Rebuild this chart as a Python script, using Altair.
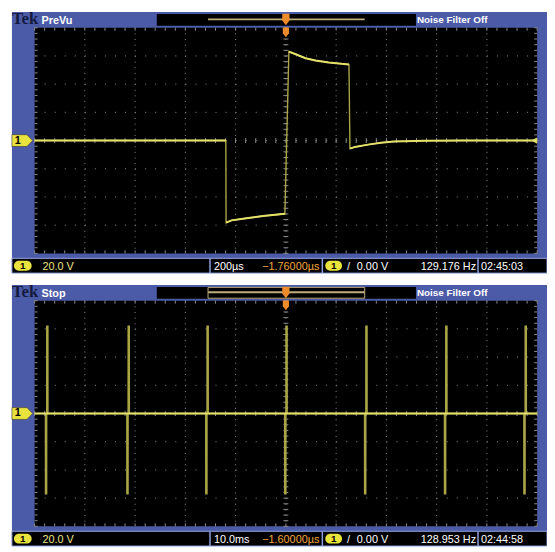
import altair as alt
import pandas as pd

# ---------------- data (read from the two captures) ----------------
# top capture: 200 us/div, 20 V/div
top_time_us = [-1000, -239, -238, -216, -157, -91, -4, 12, 39, 78, 118, 170, 222, 251,
               255, 275, 327, 379, 431, 550, 700, 1000]
top_volts = [0, 0, -58.2, -56.6, -55.1, -53.5, -51.9, 63.1, 61.2, 58.4, 56.8, 55.4, 54.4, 54.0,
             -5.7, -4.5, -2.9, -1.5, -0.6, -0.2, 0, 0]
top_segment = [0, 0, 1, 1, 1, 1, 1, 2, 2, 2, 2, 2, 2, 2, 3, 3, 3, 3, 3, 3, 3, 3]

# bottom capture: 10 ms/div, 20 V/div
spike_times_ms = [-47.6, -31.4, -15.7, 0.0, 15.9, 31.8, 47.6]
spike_high_v = [62, 62, 62, 62, 62, 62, 62]
spike_low_v = [-57, -57, -57, -57, -57, -57, -57]
pulse_low_ms = 0.24
pulse_high_ms = 0.25

top_grid_us = [-800, -600, -400, -200, 0, 200, 400, 600, 800]
bottom_grid_ms = [-40, -30, -20, -10, 0, 10, 20, 30, 40]
grid_volts = [-60, -40, -20, 0, 20, 40, 60]

top_status = {"mode": "PreVu", "volts": "20.0 V", "timebase": "200\u00b5s",
              "position": "\u22121.76000\u00b5s", "trigger": "0.00 V",
              "freq": "129.176 Hz", "clock": "02:45:03"}
bottom_status = {"mode": "Stop", "volts": "20.0 V", "timebase": "10.0ms",
                 "position": "\u22121.60000\u00b5s", "trigger": "0.00 V",
                 "freq": "128.953 Hz", "clock": "02:44:58"}

# ---------------- tables ----------------
top_df = pd.DataFrame({"t": top_time_us, "v": top_volts, "seg": top_segment,
                       "i": range(len(top_time_us))})

rows = [(-50.0, 0.0)]
for t, hi, lo in zip(spike_times_ms, spike_high_v, spike_low_v):
    rows += [(t - pulse_low_ms - 0.01, 0.0), (t - pulse_low_ms, lo), (t, lo),
             (t + 0.015, hi), (t + pulse_high_ms, hi), (t + pulse_high_ms + 0.01, 0.0)]
rows.append((50.0, 0.0))
bot_df = pd.DataFrame(rows, columns=["t", "v"])
bot_df["i"] = range(len(bot_df))
bot_base = bot_df[bot_df["v"] == 0]

# ---------------- style ----------------
W, H = 547, 543
DY2 = 277
PX0, PX1, PY0, PY1 = 27, 537, 16, 245
BLUE = "#4b5ba8"
BORDER = "#8d9fe0"
TRACE = "#e4e16a"
TRACE_DIM = "#aaa546"
GRID = "#8c8c8c"
TAN = "#bfae7c"
ORANGE = "#ec8a2c"
POS_ORANGE = "#f0a53c"
VOLT_YELLOW = "#ebe584"
PILL = "#e9e33e"
NARROW = "Liberation Sans Narrow, Liberation Sans, Arial, sans-serif"

one = pd.DataFrame({"k": [0]})
CH_SHAPE = "M-1,-0.57 L0.45,-0.57 L1,0 L0.45,0.57 L-1,0.57 Z"
TRIG_SHAPE = "M-0.6,-1 L0.6,-1 L0.6,0.1 L0,0.9 L-0.6,0.1 Z"


def xs(dom):
    return alt.Scale(domain=dom, range=[PX0, PX1], nice=False, zero=False)


def ys(dy):
    return alt.Scale(domain=[-80, 80], range=[PY1 + dy, PY0 + dy], nice=False, zero=False)


def rect(x, x2, y, y2, **kw):
    return alt.Chart(one).mark_rect(**kw).encode(
        x=alt.value(x), x2=alt.value(x2), y=alt.value(y), y2=alt.value(y2))


def label(x, y, text, **kw):
    kw.setdefault("font", NARROW)
    kw.setdefault("fontSize", 11)
    kw.setdefault("align", "left")
    kw.setdefault("baseline", "alphabetic")
    return alt.Chart(one).mark_text(text=text, **kw).encode(x=alt.value(x), y=alt.value(y))


def vrule(x, y, y2, **kw):
    return alt.Chart(one).mark_rule(**kw).encode(x=alt.value(x), y=alt.value(y), y2=alt.value(y2))


def hrule(x, x2, y, **kw):
    return alt.Chart(one).mark_rule(**kw).encode(x=alt.value(x), x2=alt.value(x2), y=alt.value(y))


def panel(dy, dom, grid_x, status, bracket):
    L = []
    xsc, ysc = xs(dom), ys(dy)
    # frame and header
    L.append(rect(4, W, dy, 250 + dy, color=BLUE))
    L.append(rect(151, 414, 2 + dy, 14 + dy, color="black"))
    if bracket:
        L.append(rect(203, 362, 2.5 + dy, 13.5 + dy, fill="black", stroke=TAN, strokeWidth=1))
    L.append(hrule(203, 362, 7.5 + dy, color=TAN, strokeWidth=2))
    L.append(alt.Chart(one).mark_point(shape=TRIG_SHAPE, size=150, filled=True, color=ORANGE,
                                       opacity=1).encode(x=alt.value(282), y=alt.value(8 + dy)))
    L.append(label(4, 12 + dy, "Tek", font="Liberation Serif", fontSize=17,
                   fontWeight="bold", color="#141a3e"))
    L.append(label(34, 12 + dy, status["mode"], fontWeight="bold", color="white"))
    L.append(label(415, 11.5 + dy, "Noise Filter Off", fontSize=10, fontWeight="bold",
                   color="white"))
    # plot area
    L.append(rect(PX0, PX1, PY0 + dy, PY1 + dy, color="black"))
    # graticule
    gx = pd.DataFrame({"g": grid_x})
    gy = pd.DataFrame({"g": grid_volts})
    L.append(alt.Chart(gx).mark_rule(color=GRID, strokeWidth=1, strokeDash=[1, 4.725]).encode(
        x=alt.X("g:Q", scale=xsc, axis=None), y=alt.value(PY0 + dy), y2=alt.value(PY1 + dy)))
    L.append(alt.Chart(gy).mark_rule(color=GRID, strokeWidth=1, strokeDash=[1, 9.2]).encode(
        y=alt.Y("g:Q", scale=ysc, axis=None), x=alt.value(PX0), x2=alt.value(PX1)))
    step_x = (dom[1] - dom[0]) / 50
    mx = pd.DataFrame({"g": [dom[0] + i * step_x for i in range(51)]})
    my = pd.DataFrame({"g": [-80 + i * 4 for i in range(41)]})
    cy = (PY0 + PY1) / 2 + dy
    cx = (PX0 + PX1) / 2
    for (a, b) in [(PY0 + dy, PY0 + dy + 3), (PY1 + dy - 3, PY1 + dy), (cy - 2.5, cy + 2.5)]:
        L.append(alt.Chart(mx).mark_rule(color=GRID, strokeWidth=1).encode(
            x=alt.X("g:Q", scale=xsc, axis=None), y=alt.value(a), y2=alt.value(b)))
    for (a, b) in [(PX0, PX0 + 3), (PX1 - 3, PX1), (cx - 2.5, cx + 2.5)]:
        L.append(alt.Chart(my).mark_rule(color=GRID, strokeWidth=1).encode(
            y=alt.Y("g:Q", scale=ysc, axis=None), x=alt.value(a), x2=alt.value(b)))
    # trigger marker at top of plot
    L.append(alt.Chart(one).mark_point(shape=TRIG_SHAPE, size=110, filled=True, color=ORANGE,
                                       opacity=1).encode(x=alt.value(cx), y=alt.value(PY0 + 5 + dy)))
    # status bar
    L.append(rect(4, W, 250 + dy, 265 + dy, fill="black", stroke=BORDER, strokeWidth=1))
    for sx in [205, 319, 477]:
        L.append(vrule(sx, 250 + dy, 265 + dy, color=BORDER, strokeWidth=1.5))
    L.append(rect(6, 24, 252.5 + dy, 262.5 + dy, color=PILL, cornerRadius=5))
    L.append(label(15, 258 + dy, "1", align="center", baseline="middle", fontSize=10,
                   fontWeight="bold", color="black"))
    L.append(label(35, 261.5 + dy, status["volts"], color=VOLT_YELLOW))
    L.append(label(209, 261.5 + dy, status["timebase"], color="white"))
    L.append(label(258, 261.5 + dy, status["position"], color=POS_ORANGE))
    L.append(rect(322, 339, 252.5 + dy, 262.5 + dy, color=PILL, cornerRadius=5))
    L.append(label(330.5, 258 + dy, "1", align="center", baseline="middle", fontSize=10,
                   fontWeight="bold", color="black"))
    L.append(label(344, 261.5 + dy, "/", color="white"))
    L.append(label(354, 261.5 + dy, status["trigger"], color="white"))
    L.append(label(475, 261.5 + dy, status["freq"], align="right", color="white"))
    L.append(label(480, 261.5 + dy, status["clock"], color="white"))
    # channel marker at the 0 V level
    L.append(alt.Chart(one).mark_point(shape=CH_SHAPE, size=441, filled=True, fill=PILL,
                                       stroke="#333", strokeWidth=0.6, opacity=1).encode(
        x=alt.value(14.5), y=alt.Y(datum=0, scale=ysc, axis=None)))
    L.append(alt.Chart(one).mark_text(text="1", font=NARROW, fontSize=11, fontWeight="bold",
                                      color="black", baseline="middle").encode(
        x=alt.value(10), y=alt.Y(datum=0, scale=ysc, axis=None)))
    return L, xsc, ysc


layers = []
L, xsc, ysc = panel(0, [-1000, 1000], top_grid_us, top_status, False)
layers += L
layers.append(alt.Chart(top_df).mark_line(color=TRACE_DIM, strokeWidth=1.4).encode(
    x=alt.X("t:Q", scale=xsc, axis=None), y=alt.Y("v:Q", scale=ysc, axis=None), order="i:Q"))
layers.append(alt.Chart(top_df).mark_line(color=TRACE, strokeWidth=2).encode(
    x=alt.X("t:Q", scale=xsc, axis=None), y=alt.Y("v:Q", scale=ysc, axis=None),
    detail="seg:N", order="i:Q"))
layers.append(alt.Chart(one).mark_point(shape="triangle-left", size=40, filled=True, color=TRACE,
                                        opacity=1).encode(
    x=alt.value(PX1 - 3), y=alt.Y(datum=0, scale=ysc, axis=None)))

L, xsc2, ysc2 = panel(DY2, [-50, 50], bottom_grid_ms, bottom_status, True)
layers += L
layers.append(alt.Chart(bot_df).mark_line(color=TRACE_DIM, strokeWidth=1.4).encode(
    x=alt.X("t:Q", scale=xsc2, axis=None), y=alt.Y("v:Q", scale=ysc2, axis=None), order="i:Q"))
layers.append(alt.Chart(bot_base).mark_line(color=TRACE, strokeWidth=2).encode(
    x=alt.X("t:Q", scale=xsc2, axis=None), y=alt.Y("v:Q", scale=ysc2, axis=None), order="i:Q"))

chart = alt.layer(*layers).resolve_scale(x="independent", y="independent").properties(
    width=W, height=H, padding=0, autosize=alt.AutoSizeParams(type="none"),
    background="white").configure_view(stroke=None)

chart.save("out.html", embed_options={"renderer": "svg", "actions": False})
